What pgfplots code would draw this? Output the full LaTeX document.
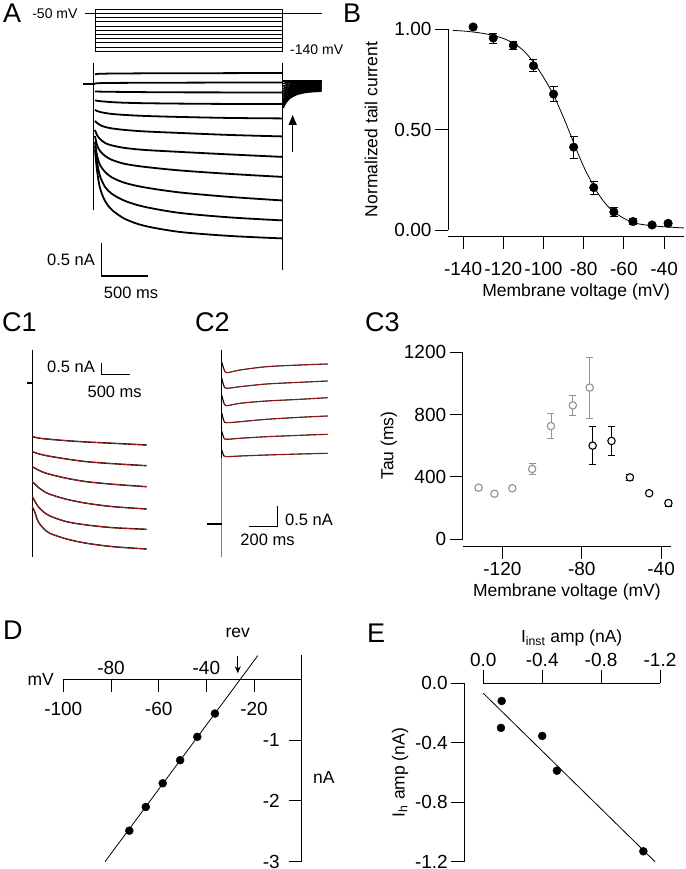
\documentclass[border=0pt]{standalone}
\usepackage{fontspec}
\setmainfont{Liberation Sans}
\usepackage{pgfplots}
\pgfplotsset{compat=1.18}
\usetikzlibrary{arrows.meta}
\newcommand{\tk}{\fontsize{19}{21}\selectfont}
\newcommand{\lb}{\fontsize{17.5}{20}\selectfont}
\newcommand{\scb}{\fontsize{16.5}{19}\selectfont}
\newcommand{\sm}{\fontsize{14}{16}\selectfont}
\newcommand{\pl}{\fontsize{27}{30}\selectfont}
\definecolor{fitred}{RGB}{215,35,35}
\definecolor{lgray}{RGB}{145,145,145}
\pgfplotsset{
  myax/.style={scale only axis, anchor=south west, clip=false,
    /pgf/number format/assume math mode=true,
    /pgf/number format/1000 sep={},
    scaled ticks=false,
    tick label style={font=\tk},
    label style={font=\lb},
    axis line style={line width=0.9pt},
    tick style={line width=0.9pt, black},
    major tick length=13pt},
  trax/.style={scale only axis, anchor=south west, clip=false, hide axis},
  tr/.style={black, line width=1.8pt, smooth, line join=round},
  c1tr/.style={black, line width=1.4pt, smooth},
  c1fit/.style={fitred, line width=0.6pt, smooth},
}
\begin{document}
\begin{tikzpicture}
\useasboundingbox (0pt,0pt) rectangle (685pt,869pt);

% ---------------- Panel A: protocol
\begin{axis}[trax, at={(66.84pt,815.9pt)}, width=262.8pt, height=45.9pt,
  xmin=-300, xmax=2500, ymin=-145, ymax=-35, unbounded coords=jump]
\addplot[black, line width=0.6pt] coordinates {(-107,-50) (2415,-50)};
\addplot[black, line width=0.6pt] coordinates {
 (0,-40) (2000,-40) (nan,nan) (0,-60) (2000,-60) (nan,nan)
 (0,-70) (2000,-70) (nan,nan) (0,-80) (2000,-80) (nan,nan)
 (0,-90) (2000,-90) (nan,nan) (0,-100) (2000,-100) (nan,nan)
 (0,-110) (2000,-110) (nan,nan) (0,-120) (2000,-120) (nan,nan)
 (0,-130) (2000,-130) (nan,nan) (0,-140) (2000,-140) (nan,nan)
 (0,-40) (0,-140) (nan,nan) (2000,-40) (2000,-140)};
\node[font=\sm, anchor=east, inner sep=0pt] at (axis cs:-185,-50) {-50 mV};
\node[font=\sm, anchor=west, inner sep=0pt] at (axis cs:2078,-136.4) {-140 mV};
\end{axis}

% ---------------- Panel A: currents
\begin{axis}[trax, at={(66.84pt,571.6pt)}, width=262.8pt, height=293.5pt,
  xmin=-300, xmax=2500, ymin=-3.2, ymax=1.2]
\addplot[black, line width=0.8pt] coordinates {(-18,0.31) (-18,-1.89)};
\addplot[black, line width=0.8pt] coordinates {(2000,0.315) (2000,-2.79)};
\addplot[black, line width=1.9pt] coordinates {(-125,0) (0,0)};
\addplot[tr] coordinates {(0,0.142)(21,0.150)(53,0.153)(107,0.154)(181,0.156)(320,0.157)(533,0.159)(906,0.160)(1439,0.162)(2000,0.165)};
\addplot[tr] coordinates {(0,0.007)(21,0.010)(53,0.012)(107,0.015)(181,0.015)(320,0.016)(533,0.018)(906,0.019)(1439,0.021)(2000,0.022)};
\addplot[tr] coordinates {(0,-0.112)(21,-0.114)(53,-0.115)(107,-0.117)(181,-0.118)(320,-0.120)(533,-0.123)(906,-0.126)(1439,-0.127)(2000,-0.127)};
\addplot[tr] coordinates {(0,-0.247)(21,-0.252)(53,-0.258)(107,-0.265)(181,-0.273)(320,-0.282)(533,-0.289)(906,-0.295)(1439,-0.300)(2000,-0.300)};
\addplot[tr] coordinates {(0,-0.390)(21,-0.405)(53,-0.420)(107,-0.435)(181,-0.450)(320,-0.465)(533,-0.480)(906,-0.495)(1439,-0.510)(2000,-0.517)};
\addplot[tr] coordinates {(0,-0.555)(21,-0.585)(53,-0.615)(107,-0.645)(181,-0.667)(320,-0.690)(533,-0.712)(906,-0.735)(1439,-0.765)(2000,-0.787)};
\addplot[tr] coordinates {(0,-0.690)(21,-0.765)(53,-0.825)(107,-0.885)(181,-0.922)(320,-0.960)(533,-0.990)(906,-1.019)(1439,-1.057)(2000,-1.094)};
\addplot[tr] coordinates {(0,-0.780)(21,-0.915)(53,-1.004)(107,-1.079)(181,-1.139)(320,-1.199)(533,-1.244)(906,-1.297)(1439,-1.349)(2000,-1.394)};
\addplot[tr] coordinates {(0,-0.870)(21,-1.064)(53,-1.214)(107,-1.319)(181,-1.402)(320,-1.484)(533,-1.552)(906,-1.627)(1439,-1.694)(2000,-1.747)};
\addplot[tr] coordinates {(0,-0.930)(21,-1.169)(53,-1.379)(107,-1.544)(181,-1.649)(320,-1.754)(533,-1.844)(906,-1.934)(1439,-2.001)(2000,-2.046)};
\addplot[tr] coordinates {(0,-0.990)(21,-1.289)(53,-1.559)(107,-1.754)(181,-1.889)(320,-2.024)(533,-2.129)(906,-2.219)(1439,-2.279)(2000,-2.316)};
% tails
\addplot[tr] coordinates {(2005,0.045)(2030,0.045)(2080,0.045)(2150,0.045)(2250,0.045)(2415,0.045)};
\addplot[tr] coordinates {(2005,0.005)(2030,0.012)(2080,0.020)(2150,0.025)(2250,0.028)(2415,0.030)};
\addplot[tr] coordinates {(2005,-0.036)(2030,-0.021)(2080,-0.005)(2150,0.005)(2250,0.011)(2415,0.015)};
\addplot[tr] coordinates {(2005,-0.076)(2030,-0.054)(2080,-0.031)(2150,-0.015)(2250,-0.005)(2415,0.000)};
\addplot[tr] coordinates {(2005,-0.117)(2030,-0.086)(2080,-0.056)(2150,-0.035)(2250,-0.022)(2415,-0.015)};
\addplot[tr] coordinates {(2005,-0.157)(2030,-0.119)(2080,-0.081)(2150,-0.055)(2250,-0.039)(2415,-0.030)};
\addplot[tr] coordinates {(2005,-0.198)(2030,-0.152)(2080,-0.106)(2150,-0.076)(2250,-0.056)(2415,-0.045)};
\addplot[tr] coordinates {(2005,-0.238)(2030,-0.185)(2080,-0.131)(2150,-0.096)(2250,-0.072)(2415,-0.060)};
\addplot[tr] coordinates {(2005,-0.279)(2030,-0.218)(2080,-0.157)(2150,-0.116)(2250,-0.089)(2415,-0.075)};
\addplot[tr] coordinates {(2005,-0.319)(2030,-0.251)(2080,-0.182)(2150,-0.136)(2250,-0.106)(2415,-0.090)};
\addplot[tr] coordinates {(2005,-0.360)(2030,-0.283)(2080,-0.207)(2150,-0.156)(2250,-0.123)(2415,-0.105)};
\draw[-{Triangle[length=10pt,width=8pt]}, line width=1.3pt] (axis cs:2106,-1.015) -- (axis cs:2106,-0.465);
\addplot[black, line width=1.2pt] coordinates {(70,-2.38) (70,-2.88) (570,-2.88)};
\node[font=\scb, anchor=east, inner sep=0pt] at (axis cs:0,-2.64) {0.5 nA};
\node[font=\scb, inner sep=0pt] at (axis cs:384,-3.13) {500 ms};
\end{axis}

% ---------------- Panel B
\begin{axis}[myax, at={(448pt,639pt)}, width=236.2pt, height=201pt,
  xmin=-147.5, xmax=-30, ymin=0, ymax=1,
  axis x line*=bottom, axis y line*=left,
  axis x line shift=6pt,
  tick align=outside,
  xtick={-140,-120,-100,-80,-60,-40}, ytick={0,0.5,1},
  xticklabel style={yshift=-10pt},
  yticklabel style={/pgf/number format/fixed, /pgf/number format/fixed zerofill, /pgf/number format/precision=2},
  xlabel={Membrane voltage (mV)}, ylabel={Normalized tail current},
  xlabel style={xshift=10pt}, xlabel shift=1pt, ylabel shift=10pt]
\addplot[black, line width=0.8pt, smooth] coordinates {
 (-145,0.993)(-140,0.990)(-135,0.985)(-130,0.978)(-125,0.968)(-120,0.953)(-115,0.930)
 (-110,0.893)(-105,0.835)(-100,0.760)(-95,0.672)(-92,0.605)(-89,0.535)(-86,0.460)
 (-83,0.385)(-80,0.315)(-77,0.255)(-74,0.200)(-71,0.155)(-68,0.118)(-65,0.090)
 (-60,0.058)(-55,0.036)(-50,0.026)(-45,0.020)(-40,0.016)(-30,0.010)};
\addplot[only marks, mark=*, mark size=4.3pt, black,
  error bars/.cd, y dir=both, y explicit,
  error bar style={line width=0.8pt},
  error mark options={rotate=90, mark size=4pt, line width=0.8pt}]
 coordinates {
 (-135,1.01) +- (0,0.008)
 (-125,0.955) +- (0,0.025)
 (-115,0.919) +- (0,0.02)
 (-105,0.817) +- (0,0.03)
 (-95,0.676) +- (0,0.037)
 (-85,0.412) +- (0,0.054)
 (-75,0.211) +- (0,0.033)
 (-65,0.09) +- (0,0.023)
 (-55.5,0.042) +- (0,0.015)
 (-46,0.025) +- (0,0.008)
 (-38,0.033) +- (0,0.008)};
\end{axis}

% ---------------- Panel C1
\begin{axis}[trax, at={(20.96pt,299.1pt)}, width=130.4pt, height=222.3pt,
  xmin=-200, xmax=2100, ymin=-8, ymax=1.5]
\addplot[black, line width=0.9pt] coordinates {(0,1.38) (0,-7.45)};
\addplot[black, line width=2pt] coordinates {(-88,0) (0,0)};
\addplot[c1tr] coordinates {(0,-2.308)(50,-2.333)(105,-2.363)(195,-2.393)(310,-2.419)(605,-2.479)(960,-2.534)(1430,-2.590)(2015,-2.662)};
\addplot[c1tr] coordinates {(0,-2.949)(50,-2.991)(105,-3.034)(195,-3.090)(310,-3.145)(605,-3.261)(960,-3.376)(1430,-3.462)(2015,-3.547)};
\addplot[c1tr] coordinates {(0,-3.590)(50,-3.658)(105,-3.731)(195,-3.829)(310,-3.915)(605,-4.085)(960,-4.231)(1430,-4.342)(2015,-4.444)};
\addplot[c1tr] coordinates {(0,-4.231)(50,-4.342)(105,-4.470)(195,-4.628)(310,-4.769)(605,-4.983)(960,-5.154)(1430,-5.299)(2015,-5.397)};
\addplot[c1tr] coordinates {(0,-4.872)(50,-5.085)(105,-5.299)(195,-5.513)(310,-5.697)(605,-5.940)(960,-6.081)(1430,-6.197)(2015,-6.265)};
\addplot[c1tr] coordinates {(0,-5.299)(50,-5.568)(105,-5.940)(195,-6.222)(310,-6.436)(605,-6.679)(960,-6.863)(1430,-7.009)(2015,-7.107)};
\addplot[c1fit] coordinates {(0,-2.308)(50,-2.333)(105,-2.363)(195,-2.393)(310,-2.419)(605,-2.479)(960,-2.534)(1430,-2.590)(2015,-2.662)};
\addplot[c1fit] coordinates {(0,-2.949)(50,-2.991)(105,-3.034)(195,-3.090)(310,-3.145)(605,-3.261)(960,-3.376)(1430,-3.462)(2015,-3.547)};
\addplot[c1fit] coordinates {(0,-3.590)(50,-3.658)(105,-3.731)(195,-3.829)(310,-3.915)(605,-4.085)(960,-4.231)(1430,-4.342)(2015,-4.444)};
\addplot[c1fit] coordinates {(0,-4.231)(50,-4.342)(105,-4.470)(195,-4.628)(310,-4.769)(605,-4.983)(960,-5.154)(1430,-5.299)(2015,-5.397)};
\addplot[c1fit] coordinates {(0,-4.872)(50,-5.085)(105,-5.299)(195,-5.513)(310,-5.697)(605,-5.940)(960,-6.081)(1430,-6.197)(2015,-6.265)};
\addplot[c1fit] coordinates {(0,-5.299)(50,-5.568)(105,-5.940)(195,-6.222)(310,-6.436)(605,-6.679)(960,-6.863)(1430,-7.009)(2015,-7.107)};
\addplot[black, line width=1.2pt] coordinates {(1224,0.855) (1224,0.359) (1724,0.359)};
\node[font=\scb, anchor=east, inner sep=0pt] at (axis cs:1106,0.684) {0.5 nA};
\node[font=\scb, inner sep=0pt] at (axis cs:1453,-0.385) {500 ms};
\end{axis}

% ---------------- Panel C2
\begin{axis}[trax, at={(200.7pt,310.5pt)}, width=133pt, height=214.2pt,
  xmin=-150, xmax=800, ymin=-0.6, ymax=4.5]
\addplot[gray, line width=0.9pt] coordinates {(0,1.793) (0,-0.557)};
\addplot[black, line width=0.9pt] coordinates {(0,4.364) (0,1.793)};
\addplot[black, line width=2pt] coordinates {(-107,0.221) (0,0.221)};
\addplot[c1tr, line width=1.1pt] coordinates {(0,4.079)(16,3.912)(36,3.824)(131,3.888)(321,3.967)(560,4.007)(757,4.031)};
\addplot[c1tr, line width=1.1pt] coordinates {(0,3.698)(16,3.507)(36,3.452)(131,3.490)(321,3.555)(560,3.595)(757,3.626)};
\addplot[c1tr, line width=1.1pt] coordinates {(0,3.293)(16,3.102)(36,3.038)(131,3.095)(321,3.150)(560,3.190)(757,3.229)};
\addplot[c1tr, line width=1.1pt] coordinates {(0,2.864)(16,2.674)(36,2.633)(131,2.657)(321,2.714)(560,2.762)(757,2.793)};
\addplot[c1tr, line width=1.1pt] coordinates {(0,2.436)(16,2.269)(36,2.238)(131,2.262)(321,2.300)(560,2.333)(757,2.357)};
\addplot[c1tr, line width=1.1pt] coordinates {(0,1.983)(16,1.840)(36,1.824)(131,1.840)(321,1.864)(560,1.888)(757,1.905)};
\addplot[c1fit, line width=0.5pt] coordinates {(16,3.912)(36,3.824)(131,3.888)(321,3.967)(560,4.007)(757,4.031)};
\addplot[c1fit, line width=0.5pt] coordinates {(16,3.507)(36,3.452)(131,3.490)(321,3.555)(560,3.595)(757,3.626)};
\addplot[c1fit, line width=0.5pt] coordinates {(16,3.102)(36,3.038)(131,3.095)(321,3.150)(560,3.190)(757,3.229)};
\addplot[c1fit, line width=0.5pt] coordinates {(16,2.674)(36,2.633)(131,2.657)(321,2.714)(560,2.762)(757,2.793)};
\addplot[c1fit, line width=0.5pt] coordinates {(16,2.269)(36,2.238)(131,2.262)(321,2.300)(560,2.333)(757,2.357)};
\addplot[c1fit, line width=0.5pt] coordinates {(16,1.840)(36,1.824)(131,1.840)(321,1.864)(560,1.888)(757,1.905)};
\addplot[black, line width=1.2pt] coordinates {(197,0.157) (397,0.157) (397,0.657)};
\node[font=\scb, anchor=west, inner sep=0pt] at (axis cs:452,0.33) {0.5 nA};
\node[font=\scb, inner sep=0pt] at (axis cs:327,-0.16) {200 ms};
\end{axis}

% ---------------- Panel C3
\begin{axis}[myax, at={(462.7pt,330pt)}, width=208.3pt, height=186.7pt,
  xmin=-140, xmax=-35, ymin=0, ymax=1200,
  axis x line*=bottom, axis y line*=left,
  axis x line shift=7pt,
  tick align=outside,
  xtick={-120,-80,-40}, ytick={0,400,800,1200},
  xlabel={Membrane voltage (mV)}, ylabel={Tau (ms)}, xlabel shift=1pt]
\addplot[only marks, mark=*, mark size=3.7pt, lgray,
  mark options={fill=white, draw=lgray, line width=1.1pt},
  error bars/.cd, y dir=both, y explicit,
  error bar style={lgray, line width=0.8pt},
  error mark options={rotate=90, mark size=3.5pt, line width=0.8pt, lgray}]
 coordinates {
 (-132,330) +- (0,15)
 (-124,291) +- (0,10)
 (-115,326) +- (0,12)
 (-105,450) +- (0,37)
 (-95.5,726) +- (0,80)
 (-84.5,859) +- (0,64)
 (-76,973) +- (0,195)};
\addplot[only marks, mark=*, mark size=3.7pt, black,
  mark options={fill=white, draw=black, line width=1.1pt},
  error bars/.cd, y dir=both, y explicit,
  error bar style={black, line width=0.8pt},
  error mark options={rotate=90, mark size=3.5pt, line width=0.8pt, black}]
 coordinates {
 (-74.5,600) +- (0,121)
 (-65,630) +- (0,91)
 (-55.7,396) +- (0,20)
 (-46,294) +- (0,10)
 (-36.3,231) +- (0,20)};
\end{axis}

% ---------------- Panel D
\begin{axis}[myax, at={(63.3pt,7.3pt)}, width=238.4pt, height=206.7pt,
  xmin=-100, xmax=0, ymin=-3, ymax=0.4,
  axis lines*=middle, tick align=center, major tick length=13pt,
  xtick={-100,-60,-20}, extra x ticks={-80,-40},
  xtick style={yshift=-6.5pt}, ytick={-3,-2,-1}, ytick style={xshift=-6.5pt},
  xticklabel style={yshift=-13pt}, yticklabel style={xshift=-12pt},
  extra x tick style={xticklabel style={anchor=south, yshift=21pt}},
  xlabel={mV}, ylabel={nA},
  every axis x label/.style={at={(axis cs:-100,0)}, anchor=east, xshift=-6pt, font=\lb},
  every axis y label/.style={at={(axis cs:0,-1.62)}, anchor=west, xshift=8pt, font=\lb}]
\addplot[black, line width=0.8pt] coordinates {(-82.5,-3.0) (-18.4,0.39)};
\addplot[only marks, mark=*, mark size=4pt, black] coordinates {
 (-72.3,-2.49) (-65.4,-2.10) (-58.3,-1.71) (-51.0,-1.33) (-43.8,-0.946) (-36.4,-0.563)};
\draw[-{Stealth[length=7pt,width=6pt]}, line width=0.8pt] (axis cs:-26.8,0.39) -- (axis cs:-26.8,0.10);
\node[font=\lb, inner sep=0pt] at (axis cs:-26.8,0.757) {rev};
\end{axis}

% ---------------- Panel E
\begin{axis}[myax, at={(483.3pt,7.3pt)}, width=176.7pt, height=178.4pt,
  xmin=-1.2, xmax=0, ymin=-1.2, ymax=0, x dir=reverse,
  axis x line*=top, axis y line*=left, axis y line shift=19pt,
  tick align=outside,
  xtick={0,-0.4,-0.8,-1.2}, ytick={0,-0.4,-0.8,-1.2},
  ticklabel style={/pgf/number format/fixed, /pgf/number format/fixed zerofill, /pgf/number format/precision=1},
  xlabel={I\textsubscript{inst} amp (nA)}, ylabel={I\textsubscript{h} amp (nA)}]
\addplot[black, line width=0.8pt] coordinates {(0,-0.067) (-1.166,-1.2)};
\addplot[only marks, mark=*, mark size=4pt, black] coordinates {
 (-0.125,-0.119) (-0.12,-0.30) (-0.40,-0.354) (-0.50,-0.588) (-1.087,-1.13)};
\end{axis}

% ---------------- Panel letters
\node[font=\pl, anchor=base west, inner sep=0pt] at (3pt,846pt) {A};
\node[font=\pl, anchor=base west, inner sep=0pt] at (343pt,846pt) {B};
\node[font=\pl, anchor=base west, inner sep=0pt] at (2pt,537pt) {C1};
\node[font=\pl, anchor=base west, inner sep=0pt] at (195pt,537pt) {C2};
\node[font=\pl, anchor=base west, inner sep=0pt] at (365pt,537pt) {C3};
\node[font=\pl, anchor=base west, inner sep=0pt] at (3pt,229pt) {D};
\node[font=\pl, anchor=base west, inner sep=0pt] at (367pt,226pt) {E};
\end{tikzpicture}
\end{document}
